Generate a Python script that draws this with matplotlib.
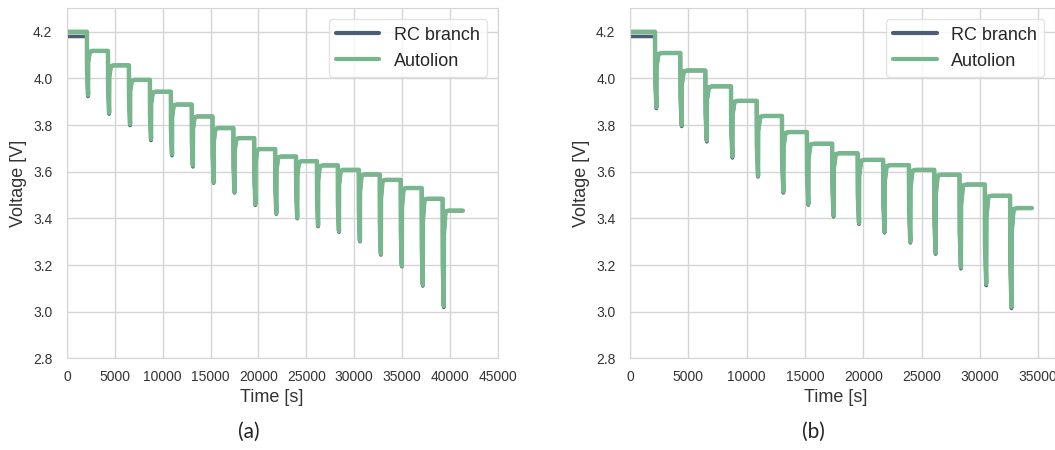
import numpy as np
import matplotlib
matplotlib.use("Agg")
import matplotlib.pyplot as plt
import seaborn as sns

# ===============================
# Data
# ===============================
# (a) pulse times [s], rest voltages (initial + after each pulse), pulse minima [V]
a_pulse_t = [2080, 4280, 6470, 8660, 10850, 13030, 15200, 17380, 19560,
             21750, 23930, 26110, 28290, 30480, 32670, 34860, 37050, 39240]
a_rest = [4.200, 4.118, 4.056, 3.994, 3.943, 3.888, 3.837, 3.787, 3.744, 3.697,
          3.665, 3.645, 3.627, 3.608, 3.588, 3.565, 3.530, 3.484, 3.433]
a_min = [3.929, 3.853, 3.804, 3.740, 3.675, 3.627, 3.555, 3.514, 3.461,
         3.422, 3.403, 3.370, 3.346, 3.304, 3.248, 3.197, 3.115, 3.024]
a_end = 41350
a_rc_start = 4.18
a_rc_min = [3.923, 3.847, 3.798, 3.734, 3.669, 3.621, 3.551, 3.509, 3.456,
            3.418, 3.399, 3.365, 3.341, 3.300, 3.243, 3.193, 3.110, 3.018]

# (b)
b_pulse_t = [2140, 4310, 6460, 8660, 10860, 13030, 15170, 17340,
             19520, 21710, 23920, 26090, 28260, 30430, 32600]
b_rest = [4.200, 4.109, 4.034, 3.966, 3.904, 3.839, 3.770, 3.720,
          3.679, 3.651, 3.628, 3.608, 3.587, 3.545, 3.497, 3.444]
b_min = [3.877, 3.800, 3.734, 3.665, 3.583, 3.515, 3.462, 3.412,
         3.380, 3.343, 3.300, 3.253, 3.190, 3.119, 3.021]
b_end = 34460
b_rc_start = 4.18
b_rc_min = [3.871, 3.794, 3.728, 3.659, 3.578, 3.509, 3.457, 3.407,
            3.375, 3.338, 3.295, 3.247, 3.184, 3.112, 3.014]

labels = ["RC branch", "Autolion"]
c_rc = "#4c5e72"
c_al = "#78b68e"


def pulse_curve(pulse_t, rest, vmin, t_end, start=None):
    """Step/relax waveform built from the read pulse times and levels."""
    t = [0]
    v = [rest[0] if start is None else start]
    prev = v[0]
    for i, tp in enumerate(pulse_t):
        r = rest[i + 1]
        t += [tp, tp + 15, tp + 120, tp + 135, tp + 300, tp + 600]
        v += [prev, prev - 0.6 * (prev - vmin[i]), vmin[i],
              vmin[i] + 0.75 * (r - vmin[i]), r - 0.004, r]
        prev = r
    t.append(t_end)
    v.append(prev)
    return np.array(t), np.array(v)


sns.set_style("whitegrid")
plt.rcParams["font.family"] = ["Liberation Sans", "DejaVu Sans"]

fig = plt.figure(figsize=(10.55, 4.5), dpi=100)
ax_a = fig.add_axes([0.0635, 0.2038, 0.4083, 0.7774])
ax_b = fig.add_axes([0.5972, 0.2038, 0.4028, 0.7774])

panels = [
    (ax_a, a_pulse_t, a_rest, a_min, a_end, a_rc_start, a_rc_min, 45000,
     np.arange(0, 45001, 5000), 0.475, -0.093),
    (ax_b, b_pulse_t, b_rest, b_min, b_end, b_rc_start, b_rc_min, 36450,
     np.arange(0, 35001, 5000), 0.485, -0.094),
]

for ax, pt, rest, vmin, t_end, rc0, rcmin, xmax, xt, xlab_x, ylab_x in panels:
    t_rc, v_rc = pulse_curve(pt, rest, rcmin, t_end, start=rc0)
    t_al, v_al = pulse_curve(pt, rest, vmin, t_end)
    ax.plot(t_rc, v_rc, color=c_rc, lw=2.6, label=labels[0], solid_capstyle="round")
    ax.plot(t_al, v_al, color=c_al, lw=3.2, label=labels[1], solid_capstyle="round")
    ax.set_xlim(0, xmax)
    ax.set_ylim(2.8, 4.3)
    ax.set_xticks(xt)
    yt = np.arange(2.8, 4.21, 0.2)
    ax.set_yticks(yt)
    ax.set_yticklabels([f"{y:.1f}" for y in yt])
    ax.tick_params(labelsize=10, colors="#333333")
    ax.tick_params(axis="y", pad=7)
    ax.tick_params(axis="x", pad=5)
    ax.grid(color="#d5d5d5", lw=1.0)
    for s in ax.spines.values():
        s.set_color("#d5d5d5")
    ax.set_xlabel("Time [s]", fontsize=13, color="#333333")
    ax.xaxis.set_label_coords(xlab_x, -0.088)
    ax.set_ylabel("Voltage [V]", fontsize=13, color="#333333")
    ax.yaxis.set_label_coords(ylab_x, 0.5)
    leg = ax.legend(loc="upper right", fontsize=13, frameon=True,
                    handlelength=2.4, borderaxespad=0.6)
    leg.get_frame().set_edgecolor("#dddddd")
    for line in leg.get_lines():
        line.set_linewidth(3)

fig.text(249 / 1055, 1 - 432 / 450, "(a)", fontsize=15, family=["Lato", "DejaVu Sans"],
         ha="center", va="center", color="#222222")
fig.text(813 / 1055, 1 - 432 / 450, "(b)", fontsize=15, family=["Lato", "DejaVu Sans"],
         ha="center", va="center", color="#222222")

fig.savefig("out.png", dpi=100)
